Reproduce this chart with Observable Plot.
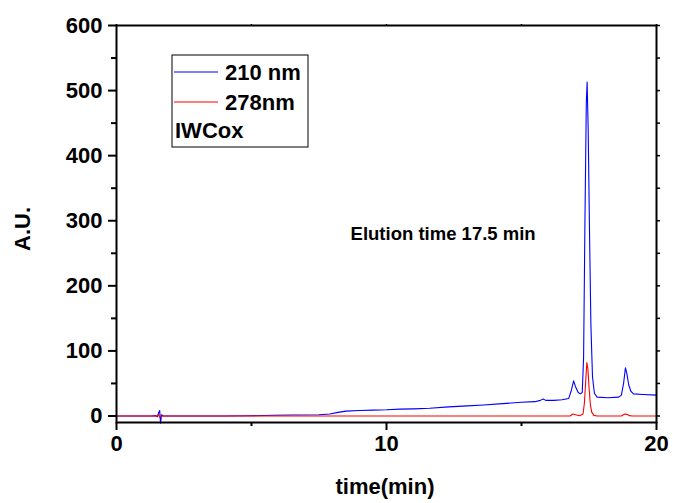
<!DOCTYPE html>
<html>
<head>
<meta charset="utf-8">
<script src="https://cdn.jsdelivr.net/npm/d3@7"></script>
<script src="https://cdn.jsdelivr.net/npm/@observablehq/plot@0.6"></script>
<style>
  html, body { margin: 0; padding: 0; background: #fff; }
  #chart { position: relative; width: 673px; height: 503px; }
  svg { font-family: "Liberation Sans", Arial, sans-serif; }
</style>
</head>
<body>
<div id="chart"></div>
<script>
// ---- data ----
const blueTime = [0, 1.3, 1.45, 1.52, 1.56, 1.6, 1.63, 1.67, 1.72, 2, 4, 5.0, 5.8, 6.5, 7.5, 7.9, 8.2, 8.5, 9.0, 9.5, 10, 10.5, 11, 11.6, 12.3, 13, 13.6, 14.3, 15.0, 15.5, 15.7, 15.8, 15.9, 16.2, 16.5, 16.75, 16.85, 16.93, 17.0, 17.1, 17.18, 17.25, 17.3, 17.35, 17.4, 17.43, 17.47, 17.52, 17.57, 17.63, 17.7, 17.8, 18.2, 18.6, 18.7, 18.78, 18.85, 18.9, 18.97, 19.05, 19.15, 19.5, 20];
const blueValue = [0, 0, 0.5, -1, 5, 8.5, -11, 2, 0, 0, 0, 0.3, 1.2, 1.5, 1.8, 3, 5.5, 7.5, 8.5, 9, 9.5, 10.5, 11, 12, 14, 15.5, 17, 19, 21, 22, 24, 26, 24, 24, 25, 27, 40, 54, 45, 36, 34, 36, 90, 300, 480, 513, 440, 280, 140, 60, 35, 29, 28, 29, 32, 50, 74, 66, 48, 38, 34, 33, 32];
const redTime = [0, 1.5, 1.56, 1.6, 1.64, 16.8, 16.9, 17.0, 17.15, 17.28, 17.33, 17.38, 17.42, 17.46, 17.5, 17.55, 17.6, 17.68, 17.8, 18.7, 18.82, 18.9, 19.0, 19.1, 20];
const redValue = [0, 0, 2, -2, 0, 0, 3, 2, 0.5, 3, 20, 55, 82, 72, 45, 18, 6, 1, 0, 0, 3, 2.5, 0.5, 0, 0];

const seriesNames = ["210 nm", "278nm"];
const seriesColors = ["#0000ff", "#ff0000"];
const legendExtra = "IWCox";

const xMajorTicks = [0, 10, 20];
const xMinorTicks = [5, 15];
const yMajorTicks = [0, 100, 200, 300, 400, 500, 600];
const yMinorTicks = [50, 150, 250, 350, 450, 550];
const xLabel = "time(min)";
const yLabel = "A.U.";
const annotation = {text: "Elution time 17.5 min", x: 8.67, y: 279};

const blue = blueTime.map((t, i) => ({t, v: blueValue[i]}));
const red = redTime.map((t, i) => ({t, v: redValue[i]}));

const W = 673, H = 503;
const mL = 116, mR = 17, mT = 25, mB = 81;
const font = '"Liberation Sans", Arial, sans-serif';

const plot = Plot.plot({
  width: W, height: H,
  marginLeft: mL, marginRight: mR, marginTop: mT, marginBottom: mB,
  x: {domain: [0, 20]},
  y: {domain: [-10, 600]},
  style: {fontFamily: font, background: "white", color: "black"},
  marks: [
    Plot.line(blue, {x: "t", y: "v", stroke: seriesColors[0], strokeWidth: 1.1}),
    Plot.line(red, {x: "t", y: "v", stroke: seriesColors[1], strokeWidth: 1.1}),
    Plot.text([annotation], {x: "x", y: "y", text: "text", textAnchor: "start", fontSize: 18.5, fontWeight: "bold", fill: "black"}),
    Plot.axisY({ticks: yMajorTicks, tickSize: 8, tickPadding: 6, fontSize: 22, fontWeight: "bold", strokeWidth: 2, label: null}),
    Plot.axisY({ticks: yMinorTicks, tickSize: 5, text: null, strokeWidth: 2, label: null}),
    Plot.axisY({anchor: "right", ticks: yMajorTicks.concat(yMinorTicks), tickSize: 3, text: null, strokeWidth: 1.5, label: null}),
    Plot.axisX({ticks: xMajorTicks, tickSize: 8, tickPadding: 5, fontSize: 22, fontWeight: "bold", strokeWidth: 2, label: null}),
    Plot.axisX({ticks: xMinorTicks, tickSize: 4, text: null, strokeWidth: 2, label: null}),
    Plot.axisX({anchor: "top", ticks: xMajorTicks.concat(xMinorTicks), tickSize: 2, text: null, strokeWidth: 1.5, label: null}),
    Plot.frame({stroke: "black", strokeWidth: 2})
  ]
});

document.getElementById("chart").appendChild(plot);
const svg = d3.select(plot);

// axis titles
svg.append("text").attr("x", 385).attr("y", 494).attr("text-anchor", "middle")
  .attr("font-size", 22).attr("font-weight", "bold").attr("font-family", font).text(xLabel);
svg.append("text").attr("transform", "translate(30,229) rotate(-90)").attr("text-anchor", "middle")
  .attr("font-size", 22).attr("font-weight", "bold").attr("font-family", font).text(yLabel);

// legend box
const lg = svg.append("g").attr("font-family", font).attr("font-weight", "bold").attr("font-size", 22)
  .attr("text-anchor", "start");
lg.append("rect").attr("x", 172).attr("y", 55).attr("width", 136).attr("height", 92)
  .attr("fill", "white").attr("stroke", "black").attr("stroke-width", 1);
seriesNames.forEach((name, i) => {
  const yy = 72 + i * 30;
  lg.append("line").attr("x1", 174).attr("x2", 218).attr("y1", yy).attr("y2", yy)
    .attr("stroke", seriesColors[i]).attr("stroke-width", 1.1);
  lg.append("text").attr("x", 225).attr("y", yy + 8).attr("text-anchor", "start").text(name);
});
lg.append("text").attr("x", 175).attr("y", 138).attr("text-anchor", "start").text(legendExtra);
</script>
</body>
</html>
